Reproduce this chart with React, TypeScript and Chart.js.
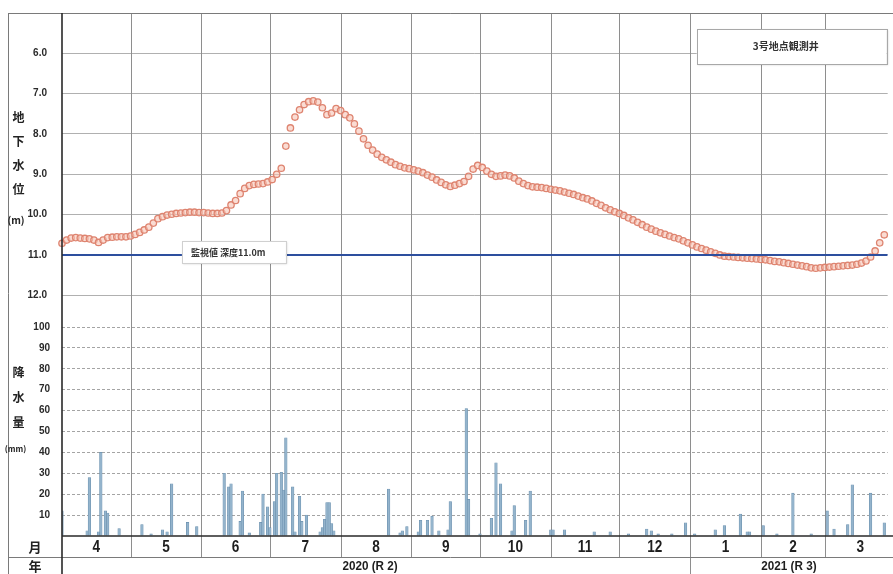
import React, { useEffect, useRef } from 'react';
import { Chart, registerables } from 'chart.js';

Chart.register(...registerables);

// ---- data ----
// groundwater level (m below surface), one reading every 2 days from 1 Apr 2020
const levelStartDay = 0;
const levelStepDays = 2;
const levelValues = [
  10.71, 10.63, 10.58, 10.57, 10.58, 10.59, 10.6, 10.63, 10.69, 10.63,
  10.57, 10.56, 10.55, 10.55, 10.55, 10.53, 10.49, 10.44, 10.38, 10.31,
  10.21, 10.1, 10.05, 10.01, 9.99, 9.97, 9.96, 9.95, 9.94, 9.94,
  9.95, 9.95, 9.96, 9.97, 9.97, 9.96, 9.9, 9.76, 9.65, 9.48,
  9.35, 9.28, 9.25, 9.24, 9.23, 9.19, 9.13, 9.0, 8.85, 8.3,
  7.85, 7.58, 7.4, 7.27, 7.2, 7.18, 7.21, 7.35, 7.52, 7.48,
  7.37, 7.42, 7.52, 7.6, 7.75, 7.93, 8.12, 8.28, 8.4, 8.5,
  8.58, 8.64, 8.7, 8.76, 8.8, 8.84, 8.86, 8.89, 8.92, 8.96,
  9.02, 9.07, 9.14, 9.2, 9.26, 9.3, 9.27, 9.23, 9.18, 9.05,
  8.87, 8.78, 8.83, 8.92, 9.0, 9.05, 9.04, 9.02, 9.04, 9.09,
  9.17, 9.23, 9.28, 9.31, 9.32, 9.33, 9.35, 9.37, 9.39, 9.41,
  9.44, 9.47, 9.5, 9.54, 9.58, 9.61, 9.66, 9.72, 9.77, 9.83,
  9.88, 9.93, 9.97, 10.02, 10.08, 10.13, 10.19, 10.25, 10.31, 10.36,
  10.41, 10.45, 10.49, 10.53, 10.57, 10.6, 10.65, 10.7, 10.75, 10.8,
  10.84, 10.88, 10.92, 10.96, 11.0, 11.03, 11.04, 11.05, 11.06, 11.07,
  11.08, 11.09, 11.1, 11.11, 11.12, 11.14, 11.16, 11.17, 11.19, 11.21,
  11.23, 11.25, 11.27, 11.29, 11.32, 11.33, 11.32, 11.31, 11.3, 11.29,
  11.28, 11.27, 11.26, 11.25, 11.23, 11.2, 11.15, 11.05, 10.9, 10.7,
  10.5,
];

// daily rainfall (mm): day index since 1 Apr 2020 and amount
const rainDays = [
  0, 11, 12, 16, 17, 19, 20, 25, 35, 39, 44, 46, 48, 55, 59,
  71, 73, 74, 78, 79, 82, 87, 88, 90, 91, 93, 94, 96, 97, 98, 101, 102, 104, 105, 107,
  113, 114, 115, 116, 117, 118, 119,
  143, 148, 149, 151,
  156, 157, 160, 162, 165, 169, 170, 177, 178, 183,
  188, 190, 192, 197, 198, 203, 205,
  214, 215, 220, 233, 240, 248, 256, 258, 261, 267, 273,
  277, 286, 290, 297, 300, 301, 307, 313, 320, 328,
  335, 338, 344, 346, 354, 360,
];
const rainValues = [
  12, 2.5, 28, 2, 40, 12, 11, 3.5, 5.5, 1, 3, 2, 25, 6.5, 4.5,
  30, 23.5, 25, 7, 21.5, 1.5, 6.5, 20, 14, 4, 16.5, 30, 30.5, 22, 47, 23.5, 2, 19, 7, 10,
  2, 4, 8, 16, 16, 6, 2.5,
  22.5, 1.5, 2.5, 4.5,
  2, 7.5, 7.5, 9.5, 2.5, 3, 16.5, 61, 17.5, 1,
  8.5, 35, 25, 2.5, 14.5, 7.5, 21.5,
  3, 3, 3, 2, 2, 1, 3.3, 2.5, 1, 1, 6.3,
  1, 3, 5, 10.5, 2, 2, 5, 1, 20.5, 1,
  12, 3.3, 5.5, 24.5, 20.5, 6.3,
];

const monthStartDays = [0, 30, 61, 91, 122, 153, 183, 214, 244, 275, 306, 334, 365];
const monthLabels = ['4', '5', '6', '7', '8', '9', '10', '11', '12', '1', '2', '3'];
const yearLabels = ['2020 (R 2)', '2021 (R 3)'];
const yearStartDays = [0, 275, 365];

const monitorLevel = 11.0;
const monitorLabel = '監視値 深度11.0m';
const wellLabel = '3号地点観測井';
const levelTitle = ['地', '下', '水', '位', '(m)'];
const rainTitle = ['降', '水', '量', '(mm)'];

// ---- layout constants ----
const W = 893;
const H = 574;
const FRAME_LEFT = 8;
const X_MAX = 361.5;
const MONTH_ROW_H = 21;
const LEVEL_MIN = 5;
const LEVEL_MAX = 12.6;
const RAIN_MAX = 103.6;
const NUM_FONT = "'Liberation Sans Narrow', 'Liberation Sans', Arial, sans-serif";
const JP_FONT = "'Noto Sans CJK JP', 'Noto Sans', sans-serif";

const fixAxis = (s: any) => {
  s.width = 54;
  s.paddingTop = 0;
  s.paddingBottom = 0;
};

const tablePlugin = {
  id: 'tablePlugin',
  beforeDraw(chart: any) {
    const { ctx, width, height } = chart;
    ctx.save();
    ctx.fillStyle = '#ffffff';
    ctx.fillRect(0, 0, width, height);
    ctx.restore();
  },
  beforeDatasetsDraw(chart: any) {
    const { ctx, chartArea } = chart;
    const xs = chart.scales.x;
    const monthRowBottom = chartArea.bottom + MONTH_ROW_H;
    ctx.save();
    ctx.strokeStyle = '#8e8e8e';
    ctx.lineWidth = 1;
    monthStartDays.forEach((d, i) => {
      if (i === 0 || d >= X_MAX) return;
      const x = Math.round(xs.getPixelForValue(d)) + 0.5;
      const bottom = yearStartDays.includes(d) ? chart.height : monthRowBottom;
      ctx.beginPath();
      ctx.moveTo(x, chartArea.top);
      ctx.lineTo(x, bottom);
      ctx.stroke();
    });
    ctx.restore();
  },
  afterDatasetsDraw(chart: any) {
    const { ctx, chartArea, width, height } = chart;
    const xs = chart.scales.x;
    const yL = chart.scales.yL;
    const yR = chart.scales.yR;
    const monthRowBottom = chartArea.bottom + MONTH_ROW_H;
    ctx.save();

    // frame lines
    ctx.strokeStyle = '#7a7a7a';
    ctx.lineWidth = 1;
    ctx.beginPath();
    ctx.moveTo(FRAME_LEFT, Math.round(chartArea.top) + 0.5);
    ctx.lineTo(width, Math.round(chartArea.top) + 0.5);
    ctx.moveTo(FRAME_LEFT + 0.5, chartArea.top);
    ctx.lineTo(FRAME_LEFT + 0.5, height);
    ctx.moveTo(FRAME_LEFT, monthRowBottom + 0.5);
    ctx.lineTo(width, monthRowBottom + 0.5);
    ctx.stroke();

    ctx.strokeStyle = '#2a2a2a';
    ctx.lineWidth = 1.6;
    ctx.beginPath();
    ctx.moveTo(chartArea.left, chartArea.top);
    ctx.lineTo(chartArea.left, height);
    ctx.moveTo(chartArea.left, chartArea.bottom);
    ctx.lineTo(width, chartArea.bottom);
    ctx.stroke();

    // monitoring label box
    const mx = xs.getPixelForValue(52.5);
    const my = yL.getPixelForValue(monitorLevel) - 3;
    ctx.fillStyle = '#ffffff';
    ctx.shadowColor = 'rgba(0,0,0,0.18)';
    ctx.shadowBlur = 2;
    ctx.shadowOffsetX = 1;
    ctx.shadowOffsetY = 1;
    ctx.fillRect(mx, my - 11, 104, 22);
    ctx.shadowColor = 'transparent';
    ctx.strokeStyle = '#d0d0d0';
    ctx.lineWidth = 1;
    ctx.strokeRect(Math.round(mx) + 0.5, Math.round(my - 11) + 0.5, 104, 22);
    ctx.fillStyle = '#333';
    ctx.font = `bold 9px ${JP_FONT}`;
    ctx.textAlign = 'left';
    ctx.textBaseline = 'middle';
    ctx.fillText(monitorLabel, mx + 9, my + 1);

    // well legend box
    const bw = 190;
    const bh = 35;
    const bx = chartArea.right - bw - 1;
    const by = chartArea.top + 16;
    ctx.fillStyle = '#ffffff';
    ctx.shadowColor = 'rgba(0,0,0,0.18)';
    ctx.shadowBlur = 2;
    ctx.shadowOffsetX = 1;
    ctx.shadowOffsetY = 1;
    ctx.fillRect(bx, by, bw, bh);
    ctx.shadowColor = 'transparent';
    ctx.strokeStyle = '#a8a8a8';
    ctx.strokeRect(Math.round(bx) + 0.5, Math.round(by) + 0.5, bw, bh);
    ctx.fillStyle = '#333';
    ctx.font = `bold 10px ${JP_FONT}`;
    ctx.textAlign = 'center';
    ctx.fillText(wellLabel, bx + bw / 2 - 6, by + bh / 2);

    // axis titles
    ctx.fillStyle = '#222';
    ctx.textAlign = 'center';
    const lt0 = yL.getPixelForValue(7.6);
    levelTitle.forEach((t, i) => {
      ctx.font = t.length > 1 ? `bold 10px ${JP_FONT}` : `bold 12px ${JP_FONT}`;
      const y = i < 4 ? lt0 + i * 23.8 : lt0 + 3 * 23.8 + 31;
      ctx.fillText(t, t.length > 1 ? 16 : 18.5, y);
    });
    const rt0 = yR.getPixelForValue(78.5);
    rainTitle.forEach((t, i) => {
      ctx.font = t.length > 1 ? `bold 8px ${JP_FONT}` : `bold 12px ${JP_FONT}`;
      const y = i < 3 ? rt0 + i * 25 : rt0 + 2 * 25 + 27;
      ctx.fillText(t, t.length > 1 ? 15.5 : 18.5, y);
    });

    // row headers
    ctx.font = `bold 13px ${JP_FONT}`;
    ctx.fillText('月', 35, chartArea.bottom + MONTH_ROW_H / 2 + 1);
    ctx.fillText('年', 35, monthRowBottom + (height - monthRowBottom) / 2 + 1);

    // month labels
    ctx.fillStyle = '#1e1e1e';
    monthLabels.forEach((m, i) => {
      const a = xs.getPixelForValue(monthStartDays[i]);
      const b = xs.getPixelForValue(Math.min(monthStartDays[i + 1], 365));
      const cx = (a + b) / 2;
      ctx.save();
      ctx.translate(cx, chartArea.bottom + MONTH_ROW_H / 2 + 1);
      ctx.scale(0.85, 1);
      ctx.font = `bold 16px 'Liberation Sans', Arial, sans-serif`;
      ctx.fillText(m, 0, 0);
      ctx.restore();
    });

    // year labels
    yearLabels.forEach((yl, i) => {
      const a = xs.getPixelForValue(Math.min(yearStartDays[i], X_MAX));
      const b = xs.getPixelForValue(Math.min(yearStartDays[i + 1], X_MAX));
      const cx = i === 0 ? (a + b) / 2 - 6 : (a + b) / 2;
      ctx.save();
      ctx.translate(cx, monthRowBottom + (height - monthRowBottom) / 2 + 1);
      ctx.scale(0.9, 1);
      ctx.font = `bold 13px 'Liberation Sans', Arial, sans-serif`;
      ctx.fillText(yl, 0, 0);
      ctx.restore();
    });

    ctx.restore();
  },
};

export default function App() {
  const ref = useRef<HTMLCanvasElement>(null);

  useEffect(() => {
    const canvas = ref.current;
    if (!canvas) return;
    const levelPoints = levelValues.map((v, i) => ({ x: levelStartDay + i * levelStepDays, y: v }));
    const rainPoints = rainDays.map((d, i) => ({ x: d, y: rainValues[i] }));
    const monitorPoints = [
      { x: 0, y: monitorLevel },
      { x: X_MAX, y: monitorLevel },
    ];

    const chart = new Chart(canvas, {
      type: 'bar',
      data: {
        datasets: [
          {
            type: 'line',
            label: 'monitor',
            data: monitorPoints,
            yAxisID: 'yL',
            borderColor: '#2d4f9e',
            borderWidth: 2,
            pointRadius: 0,
            order: 0,
          } as any,
          {
            type: 'line',
            label: 'level',
            data: levelPoints,
            yAxisID: 'yL',
            showLine: false,
            pointRadius: 3.2,
            pointBorderWidth: 1.3,
            pointBorderColor: '#de8470',
            pointBackgroundColor: 'rgba(246,196,182,0.6)',
            order: 1,
            clip: false,
          } as any,
          {
            type: 'bar',
            label: 'rain',
            data: rainPoints,
            yAxisID: 'yR',
            backgroundColor: '#94b4cc',
            borderColor: '#6b90ae',
            borderWidth: 0.6,
            barThickness: 2.6,
            order: 2,
          } as any,
        ],
      },
      options: {
        animation: false,
        responsive: false,
        maintainAspectRatio: false,
        layout: { padding: { left: FRAME_LEFT, top: 13, right: 0, bottom: 38 } },
        plugins: { legend: { display: false }, tooltip: { enabled: false } },
        events: [],
        scales: {
          x: {
            type: 'linear',
            display: false,
            min: 0,
            max: X_MAX,
            offset: false,
          },
          yL: {
            type: 'linear',
            position: 'left',
            stack: 'panels',
            stackWeight: (LEVEL_MAX - LEVEL_MIN) * 40.33,
            weight: 2,
            reverse: true,
            min: LEVEL_MIN,
            max: LEVEL_MAX,
            afterFit: fixAxis,
            ticks: {
              stepSize: 1,
              includeBounds: false,
              autoSkip: false,
              padding: 15,
              color: '#2a2a2a',
              font: { family: NUM_FONT, size: 10, weight: 'bold' },
              callback: (v: any) => (Number(v) === LEVEL_MIN ? '' : Number(v).toFixed(1)),
            },
            grid: { color: '#b0b0b0', lineWidth: 1, drawTicks: false },
            border: { display: false },
          },
          yR: {
            type: 'linear',
            position: 'left',
            stack: 'panels',
            stackWeight: RAIN_MAX * 2.09,
            weight: 1,
            min: 0,
            max: RAIN_MAX,
            afterFit: fixAxis,
            ticks: {
              stepSize: 10,
              includeBounds: false,
              autoSkip: false,
              padding: 12,
              color: '#2a2a2a',
              font: { family: NUM_FONT, size: 10, weight: 'bold' },
              callback: (v: any) => (Number(v) === 0 ? '' : String(v)),
            },
            grid: {
              color: (c: any) => (c.tick && c.tick.value === 0 ? 'rgba(0,0,0,0)' : '#a4a4a4'),
              lineWidth: 1,
              drawTicks: false,
            },
            border: { display: false, dash: [3, 2] },
          },
        },
      } as any,
      plugins: [tablePlugin],
    });

    return () => chart.destroy();
  }, []);

  return (
    <div style={{ position: 'absolute', left: 0, top: 0, width: W, height: H, background: '#fff' }}>
      <canvas ref={ref} width={W} height={H} style={{ display: 'block', width: W, height: H }} />
    </div>
  );
}
